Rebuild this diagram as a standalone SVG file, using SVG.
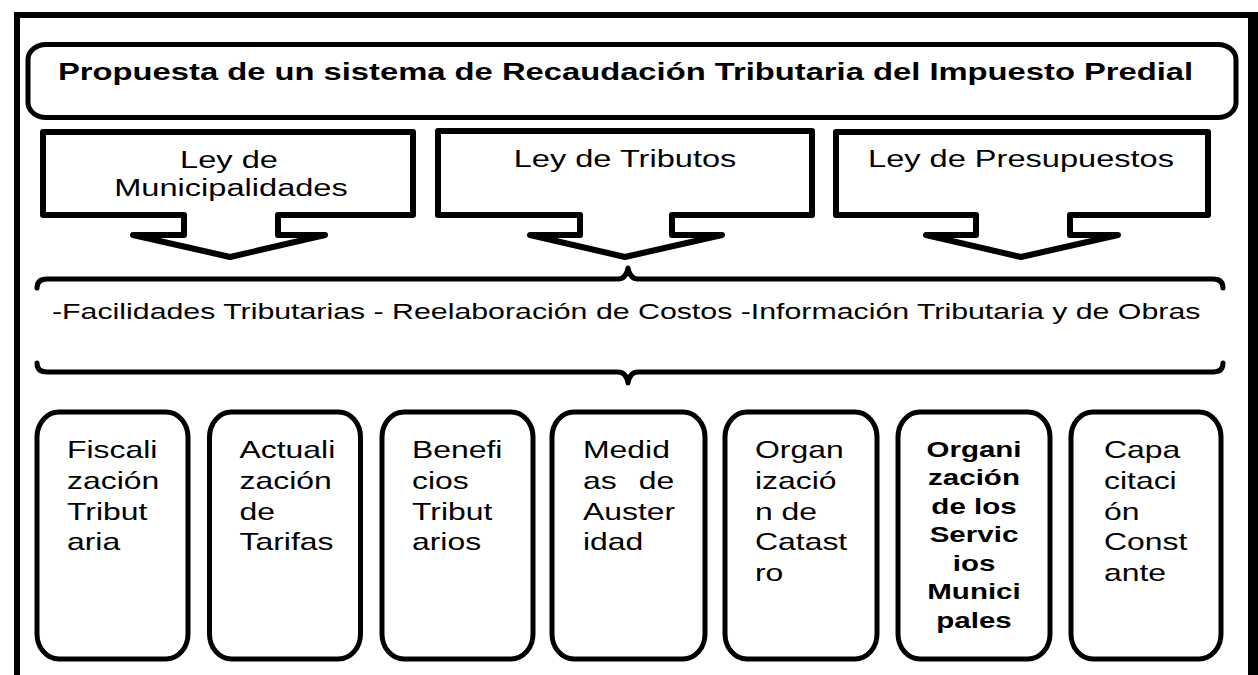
<svg xmlns="http://www.w3.org/2000/svg" width="1258" height="675" viewBox="0 0 1258 675">
<style>
text{font-family:"Liberation Sans",Arial,sans-serif;fill:#000}
.frame{fill:#000}
.box{fill:#fff;stroke:#000;stroke-width:5}
.arrow{fill:#fff;stroke:#000;stroke-width:6;stroke-linejoin:round}
.brace{fill:none;stroke:#000;stroke-width:5;stroke-linecap:round;stroke-linejoin:round}
.t-title{font-size:24.5px;font-weight:bold}
.t-law{font-size:24.5px}
.t-mid{font-size:22.7px}
.t-box{font-size:24px}
.t-bold{font-size:22.2px;font-weight:bold}
</style>
<rect width="1258" height="675" fill="#fff"/>
<path id="frame" class="frame" d="M14,12H1258V675H1248V18H20V675H14Z"/>

<g id="title">
<rect class="box" x="28" y="44.5" width="1208" height="73" rx="18" ry="15"/>
<text class="t-title" transform="translate(58,80) scale(1.337,1)">Propuesta de un sistema de Recaudación Tributaria del Impuesto Predial</text>
</g>

<g id="ley-municipalidades">
<path class="arrow" d="M43,132H413V215H278V235H325L230,257L133,235H184V215H43Z"/>
<text class="t-law" text-anchor="middle" transform="translate(229,168) scale(1.33,1)">Ley de</text>
<text class="t-law" text-anchor="middle" transform="translate(231,196) scale(1.33,1)">Municipalidades</text>
</g>

<g id="ley-tributos">
<path class="arrow" d="M438,131H812V215H672V235H722L625,257L530,235H580V215H438Z"/>
<text class="t-law" text-anchor="middle" transform="translate(625,167) scale(1.33,1)">Ley de Tributos</text>
</g>

<g id="ley-presupuestos">
<path class="arrow" d="M836,132H1208V215H1070V235H1118L1021,257L926,235H976V215H836Z"/>
<text class="t-law" text-anchor="middle" transform="translate(1021,167) scale(1.33,1)">Ley de Presupuestos</text>
</g>

<g id="connectors">
<path class="brace" d="M37,288Q37,279 47,279H618Q626,279 628,268Q630,279 638,279H1213Q1223,279 1223,288"/>
<path class="brace" d="M37,363Q37,372 47,372H618Q626,372 628,383Q630,372 638,372H1213Q1223,372 1223,363"/>
</g>

<g id="acciones">
<text class="t-mid" transform="translate(52,319) scale(1.335,1)">-Facilidades Tributarias - Reelaboración de Costos -Información Tributaria y de Obras</text>
</g>

<g id="fiscalizacion">
<rect class="box" x="37" y="412" width="151" height="247" rx="22" ry="25"/>
<text class="t-box" transform="translate(67,458) scale(1.33,1)"><tspan x="0" y="0">Fiscali</tspan><tspan x="0" y="30.8">zación</tspan><tspan x="0" y="61.6">Tribut</tspan><tspan x="0" y="92.4">aria</tspan></text>
</g>

<g id="actualizacion">
<rect class="box" x="209.5" y="412" width="151" height="247" rx="22" ry="25"/>
<text class="t-box" transform="translate(239.5,458) scale(1.33,1)"><tspan x="0" y="0">Actuali</tspan><tspan x="0" y="30.8">zación</tspan><tspan x="0" y="61.6">de</tspan><tspan x="0" y="92.4">Tarifas</tspan></text>
</g>

<g id="beneficios">
<rect class="box" x="382" y="412" width="151" height="247" rx="22" ry="25"/>
<text class="t-box" transform="translate(412,458) scale(1.33,1)"><tspan x="0" y="0">Benefi</tspan><tspan x="0" y="30.8">cios</tspan><tspan x="0" y="61.6">Tribut</tspan><tspan x="0" y="92.4">arios</tspan></text>
</g>

<g id="medidas">
<rect class="box" x="552" y="412" width="153" height="247" rx="22" ry="25"/>
<text class="t-box" transform="translate(583,458) scale(1.33,1)"><tspan x="0" y="0">Medid</tspan><tspan x="0" y="30.8" word-spacing="10">as de</tspan><tspan x="0" y="61.6">Auster</tspan><tspan x="0" y="92.4">idad</tspan></text>
</g>

<g id="catastro">
<rect class="box" x="725" y="412" width="152" height="247" rx="22" ry="25"/>
<text class="t-box" transform="translate(755,458) scale(1.33,1)"><tspan x="0" y="0">Organ</tspan><tspan x="0" y="30.8">izació</tspan><tspan x="0" y="61.6">n de</tspan><tspan x="0" y="92.4">Catast</tspan><tspan x="0" y="123.2">ro</tspan></text>
</g>

<g id="servicios">
<rect class="box" x="898" y="412" width="152" height="247" rx="22" ry="25"/>
<text class="t-bold" text-anchor="middle" transform="translate(974,457) scale(1.33,1)"><tspan x="0" y="0">Organi</tspan><tspan x="0" y="28.5">zación</tspan><tspan x="0" y="57">de los</tspan><tspan x="0" y="85.5">Servic</tspan><tspan x="0" y="114">ios</tspan><tspan x="0" y="142.5">Munici</tspan><tspan x="0" y="171">pales</tspan></text>
</g>

<g id="capacitacion">
<rect class="box" x="1071" y="412" width="150" height="247" rx="22" ry="25"/>
<text class="t-box" transform="translate(1104,458) scale(1.33,1)"><tspan x="0" y="0">Capa</tspan><tspan x="0" y="30.8">citaci</tspan><tspan x="0" y="61.6">ón</tspan><tspan x="0" y="92.4">Const</tspan><tspan x="0" y="123.2">ante</tspan></text>
</g>
</svg>
